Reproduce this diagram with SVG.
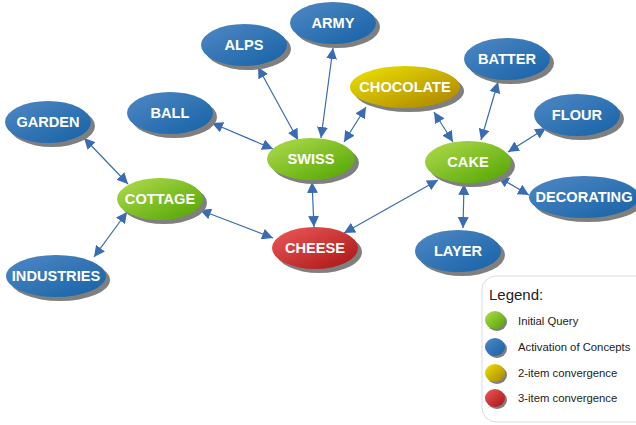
<svg xmlns="http://www.w3.org/2000/svg" width="636" height="425" viewBox="0 0 636 425">
  <defs>
    <linearGradient id="gBlue" x1="0" y1="0" x2="1" y2="1">
      <stop offset="0" stop-color="#5088c4"/>
      <stop offset="1" stop-color="#1562a6"/>
    </linearGradient>
    <linearGradient id="gGreen" x1="0" y1="0" x2="1" y2="1">
      <stop offset="0" stop-color="#b2dc4e"/>
      <stop offset="1" stop-color="#4fa400"/>
    </linearGradient>
    <linearGradient id="gYellow" x1="0" y1="0" x2="1" y2="1">
      <stop offset="0" stop-color="#eee400"/>
      <stop offset="1" stop-color="#a88000"/>
    </linearGradient>
    <linearGradient id="gRed" x1="0" y1="0" x2="1" y2="1">
      <stop offset="0" stop-color="#ee5a5a"/>
      <stop offset="1" stop-color="#a81414"/>
    </linearGradient>
    <marker id="ah" viewBox="0 0 10 10" refX="10" refY="5" markerWidth="11" markerHeight="11" markerUnits="userSpaceOnUse" orient="auto-start-reverse">
      <path d="M0,0 L10,5 L0,10 z" fill="#3a6cb4"/>
    </marker>
  </defs>
  <style>
    .edge { stroke: #3a6cb4; stroke-width: 1.2; fill: none; marker-start: url(#ah); marker-end: url(#ah); }
    .shadow { fill: #7f7f7f; }
    .blue { fill: url(#gBlue); }
    .green { fill: url(#gGreen); }
    .yellow { fill: url(#gYellow); }
    .red { fill: url(#gRed); }
    .lbl { font-family: "Liberation Sans", Arial, sans-serif; font-weight: bold; font-size: 14.6px; fill: #ffffff; text-anchor: middle; dominant-baseline: central; }
    .leg { font-family: "Liberation Sans", Arial, sans-serif; font-size: 11.3px; fill: #222222; dominant-baseline: central; }
  </style>

  <!-- connectors -->
  <g id="connectors">
    <line class="edge" x1="84" y1="138" x2="128" y2="184"/>
    <line class="edge" x1="127" y1="212" x2="94" y2="257"/>
    <line class="edge" x1="200" y1="210" x2="273" y2="238"/>
    <line class="edge" x1="212" y1="123" x2="273" y2="149"/>
    <line class="edge" x1="258" y1="67" x2="298" y2="140"/>
    <line class="edge" x1="333" y1="48" x2="321" y2="138"/>
    <line class="edge" x1="366" y1="107" x2="344" y2="142"/>
    <line class="edge" x1="312" y1="182" x2="314" y2="227"/>
    <line class="edge" x1="434" y1="112" x2="453" y2="142"/>
    <line class="edge" x1="498" y1="82" x2="481" y2="140"/>
    <line class="edge" x1="546" y1="128" x2="508" y2="152"/>
    <line class="edge" x1="498" y1="177" x2="529" y2="195"/>
    <line class="edge" x1="464" y1="184" x2="463" y2="228"/>
    <line class="edge" x1="438" y1="180" x2="344" y2="233"/>
  </g>

  <!-- nodes -->
  <g id="alps">
    <ellipse class="shadow" cx="248" cy="49" rx="43" ry="21"/>
    <ellipse class="blue" cx="244" cy="45" rx="43" ry="21"/>
    <text class="lbl" x="244" y="45">ALPS</text>
  </g>
  <g id="army">
    <ellipse class="shadow" cx="337" cy="27" rx="43" ry="21"/>
    <ellipse class="blue" cx="333" cy="23" rx="43" ry="21"/>
    <text class="lbl" x="333" y="23">ARMY</text>
  </g>
  <g id="ball">
    <ellipse class="shadow" cx="174" cy="117" rx="43" ry="21"/>
    <ellipse class="blue" cx="170" cy="113" rx="43" ry="21"/>
    <text class="lbl" x="170" y="113">BALL</text>
  </g>
  <g id="garden">
    <ellipse class="shadow" cx="52" cy="126" rx="43" ry="21"/>
    <ellipse class="blue" cx="48" cy="122" rx="43" ry="21"/>
    <text class="lbl" x="48" y="122">GARDEN</text>
  </g>
  <g id="cottage">
    <ellipse class="shadow" cx="164" cy="203" rx="43" ry="21"/>
    <ellipse class="green" cx="160" cy="199" rx="43" ry="21"/>
    <text class="lbl" x="160" y="199">COTTAGE</text>
  </g>
  <g id="industries">
    <ellipse class="shadow" cx="60" cy="280" rx="50" ry="21"/>
    <ellipse class="blue" cx="56" cy="276" rx="50" ry="21"/>
    <text class="lbl" x="56" y="276">INDUSTRIES</text>
  </g>
  <g id="swiss">
    <ellipse class="shadow" cx="315" cy="163" rx="44" ry="21"/>
    <ellipse class="green" cx="311" cy="159" rx="44" ry="21"/>
    <text class="lbl" x="311" y="159">SWISS</text>
  </g>
  <g id="cheese">
    <ellipse class="shadow" cx="319" cy="252" rx="43" ry="21"/>
    <ellipse class="red" cx="315" cy="248" rx="43" ry="21"/>
    <text class="lbl" x="315" y="248">CHEESE</text>
  </g>
  <g id="chocolate">
    <ellipse class="shadow" cx="409" cy="91" rx="55" ry="21"/>
    <ellipse class="yellow" cx="405" cy="87" rx="55" ry="21"/>
    <text class="lbl" x="405" y="87">CHOCOLATE</text>
  </g>
  <g id="batter">
    <ellipse class="shadow" cx="511" cy="63" rx="43" ry="21"/>
    <ellipse class="blue" cx="507" cy="59" rx="43" ry="21"/>
    <text class="lbl" x="507" y="59">BATTER</text>
  </g>
  <g id="flour">
    <ellipse class="shadow" cx="581" cy="119" rx="43" ry="21"/>
    <ellipse class="blue" cx="577" cy="115" rx="43" ry="21"/>
    <text class="lbl" x="577" y="115">FLOUR</text>
  </g>
  <g id="cake">
    <ellipse class="shadow" cx="472" cy="166" rx="43" ry="21"/>
    <ellipse class="green" cx="468" cy="162" rx="43" ry="21"/>
    <text class="lbl" x="468" y="162">CAKE</text>
  </g>
  <g id="decorating">
    <ellipse class="shadow" cx="588" cy="201" rx="55" ry="21"/>
    <ellipse class="blue" cx="584" cy="197" rx="55" ry="21"/>
    <text class="lbl" x="584" y="197">DECORATING</text>
  </g>
  <g id="layer">
    <ellipse class="shadow" cx="462" cy="255" rx="43" ry="21"/>
    <ellipse class="blue" cx="458" cy="251" rx="43" ry="21"/>
    <text class="lbl" x="458" y="251">LAYER</text>
  </g>

  <!-- legend -->
  <g id="legend">
    <rect x="482" y="276" width="172" height="146" rx="14" fill="#ffffff" stroke="#d6dde6" stroke-width="1"/>
    <text class="leg" x="489" y="294" style="font-size:15px">Legend:</text>
    <ellipse class="shadow" cx="497" cy="322" rx="10" ry="9"/>
    <ellipse class="green" cx="495" cy="320" rx="10" ry="9"/>
    <text class="leg" x="518" y="321">Initial Query</text>
    <ellipse class="shadow" cx="497" cy="349" rx="10" ry="9"/>
    <ellipse class="blue" cx="495" cy="347" rx="10" ry="9"/>
    <text class="leg" x="518" y="347">Activation of Concepts</text>
    <ellipse class="shadow" cx="497" cy="375" rx="10" ry="9"/>
    <ellipse class="yellow" cx="495" cy="373" rx="10" ry="9"/>
    <text class="leg" x="518" y="373">2-item convergence</text>
    <ellipse class="shadow" cx="497" cy="400" rx="10" ry="9"/>
    <ellipse class="red" cx="495" cy="398" rx="10" ry="9"/>
    <text class="leg" x="518" y="398">3-item convergence</text>
  </g>
</svg>
